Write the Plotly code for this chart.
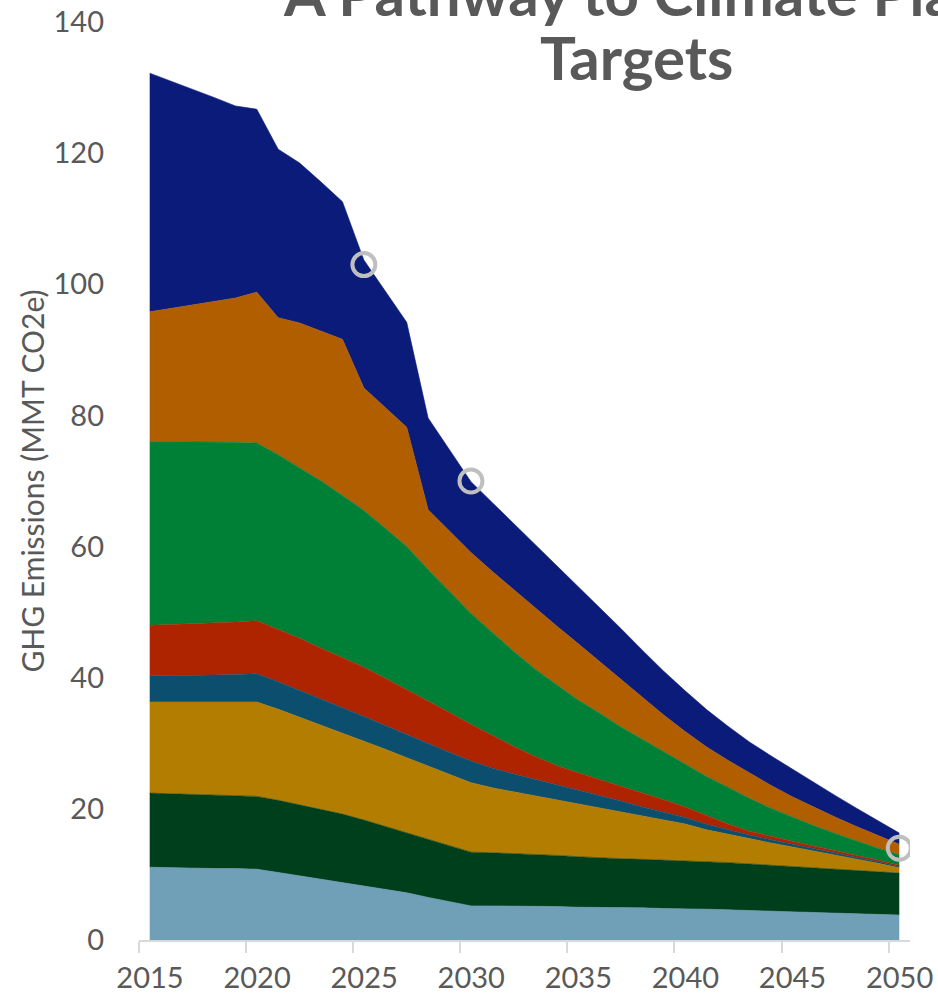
import plotly.graph_objects as go

years = list(range(2015, 2051))

# Sector emissions (MMT CO2e), stacked bottom -> top
light_blue = [11.1, 11.0, 11.0, 10.9, 10.9, 10.8, 10.3, 9.8, 9.3, 8.8, 8.3, 7.8, 7.2, 6.5, 5.8, 5.2,
              5.2, 5.2, 5.1, 5.1, 5.0, 5.0, 4.9, 4.9, 4.8, 4.8, 4.7, 4.6, 4.5, 4.4, 4.3, 4.2, 4.1, 4.0, 3.9, 3.8]
dark_green = [11.3, 11.3, 11.2, 11.2, 11.1, 11.1, 11.0, 10.8, 10.6, 10.4, 10.0, 9.5, 9.1, 8.8, 8.5, 8.2,
              8.1, 8.0, 8.0, 7.8, 7.7, 7.5, 7.5, 7.4, 7.4, 7.3, 7.2, 7.2, 7.1, 7.0, 6.9, 6.8, 6.7, 6.6, 6.5, 6.4]
gold = [13.9, 14.0, 14.1, 14.2, 14.3, 14.4, 13.9, 13.4, 12.9, 12.4, 12.1, 11.8, 11.5, 11.2, 10.9, 10.6,
        9.9, 9.4, 8.9, 8.4, 8.0, 7.6, 7.1, 6.6, 6.1, 5.6, 4.9, 4.3, 3.8, 3.4, 3.0, 2.6, 2.2, 1.7, 1.3, 0.8]
teal = [4.0, 4.0, 4.1, 4.1, 4.2, 4.3, 4.2, 4.1, 3.9, 3.8, 3.7, 3.6, 3.5, 3.4, 3.4, 3.3,
        3.0, 2.7, 2.5, 2.3, 2.1, 1.9, 1.7, 1.4, 1.2, 1.0, 0.85, 0.7, 0.6, 0.5, 0.45, 0.4, 0.35, 0.3, 0.25, 0.2]
red = [7.7, 7.8, 7.9, 8.0, 8.0, 8.1, 8.0, 7.9, 7.8, 7.7, 7.5, 7.2, 6.9, 6.5, 6.1, 5.6,
       5.0, 4.2, 3.5, 3.0, 2.7, 2.5, 2.3, 2.1, 1.9, 1.6, 1.3, 0.9, 0.6, 0.5, 0.4, 0.35, 0.3, 0.3, 0.25, 0.2]
green = [28.0, 27.9, 27.7, 27.5, 27.4, 27.1, 26.6, 26.0, 25.5, 24.7, 23.9, 22.9, 21.8, 20.1, 18.5, 16.9,
         15.7, 14.5, 13.3, 12.3, 11.1, 10.1, 9.0, 8.2, 7.3, 6.6, 6.0, 5.6, 5.0, 4.3, 3.7, 3.1, 2.6, 2.2, 1.8, 1.6]
orange = [19.8, 20.3, 20.8, 21.5, 22.0, 23.0, 20.9, 22.1, 22.8, 23.8, 18.7, 18.4, 18.2, 9.1, 9.1, 9.3,
          9.3, 9.4, 9.3, 9.0, 8.6, 7.9, 7.2, 6.4, 5.6, 4.9, 4.5, 4.1, 3.9, 3.5, 3.1, 2.8, 2.5, 2.2, 1.9, 1.6]
navy = [36.4, 34.7, 33.0, 31.1, 29.3, 27.9, 25.7, 24.4, 22.8, 21.0, 19.5, 17.8, 16.0, 14.0, 12.4, 10.8,
        10.5, 10.1, 9.7, 9.2, 8.7, 8.3, 7.8, 7.2, 6.7, 6.2, 5.7, 5.2, 4.7, 4.5, 4.2, 3.8, 3.3, 2.8, 2.3, 1.7]

target_years = [2025, 2030, 2050]
target_values = [103, 70, 14]

tick_years = [2015, 2020, 2025, 2030, 2035, 2040, 2045, 2050]
y_ticks = [0, 20, 40, 60, 80, 100, 120, 140]

series = [
    ("Series 1", light_blue, "#6FA0B8"),
    ("Series 2", dark_green, "#003F1B"),
    ("Series 3", gold, "#B27D00"),
    ("Series 4", teal, "#0B4E6D"),
    ("Series 5", red, "#AE2300"),
    ("Series 6", green, "#008036"),
    ("Series 7", orange, "#B05E00"),
    ("Series 8", navy, "#0B1B79"),
]

fig = go.Figure()
for name, vals, col in series:
    fig.add_trace(go.Scatter(
        x=years, y=vals, name=name, mode="lines", stackgroup="one",
        line=dict(color=col, width=0.6), fillcolor=col, hoverinfo="skip"))

fig.add_trace(go.Scatter(
    x=target_years, y=target_values, mode="markers", name="Targets",
    marker=dict(symbol="circle-open", size=23, color="#BFBFBF", line=dict(width=4, color="#BFBFBF"))))

label_font = dict(family="Lato, sans-serif", size=29, color="#595959")

fig.update_layout(
    width=938, height=997,
    margin=dict(l=139, r=28, t=22, b=57),
    paper_bgcolor="white", plot_bgcolor="white",
    showlegend=False,
    xaxis=dict(
        range=[2014.5, 2050.5],
        automargin=False,
        tickmode="array",
        tickvals=[y - 0.5 for y in tick_years],
        ticktext=[str(y) for y in tick_years],
        ticklabelshift=11,
        ticks="outside", ticklen=11, tickwidth=1.5, tickcolor="#D9D9D9",
        showline=True, linecolor="#D9D9D9", linewidth=1.5,
        showgrid=False, zeroline=False,
        tickfont=label_font,
    ),
    yaxis=dict(
        range=[0, 140],
        automargin=False,
        tickmode="array", tickvals=y_ticks, ticktext=[str(v) for v in y_ticks],
        ticks="", showline=False, showgrid=False, zeroline=False,
        ticklabelstandoff=34,
        tickfont=label_font,
        title=dict(text="GHG Emissions (MMT CO2e)", standoff=0,
                   font=dict(family="Lato, sans-serif", size=30, color="#595959")),
    ),
    annotations=[
        dict(text="<b>A Pathway to Climate Plan</b>", xref="paper", yref="paper",
             x=0.645, y=1.0316, xanchor="center", yanchor="middle", showarrow=False,
             font=dict(family="Lato, sans-serif", size=60, color="#595959")),
        dict(text="<b>Targets</b>", xref="paper", yref="paper",
             x=0.645, y=0.9619, xanchor="center", yanchor="middle", showarrow=False,
             font=dict(family="Lato, sans-serif", size=60, color="#595959")),
    ],
)

fig.write_html("out.html", config={"displayModeBar": False},
               post_script="document.body.style.margin='0';")
